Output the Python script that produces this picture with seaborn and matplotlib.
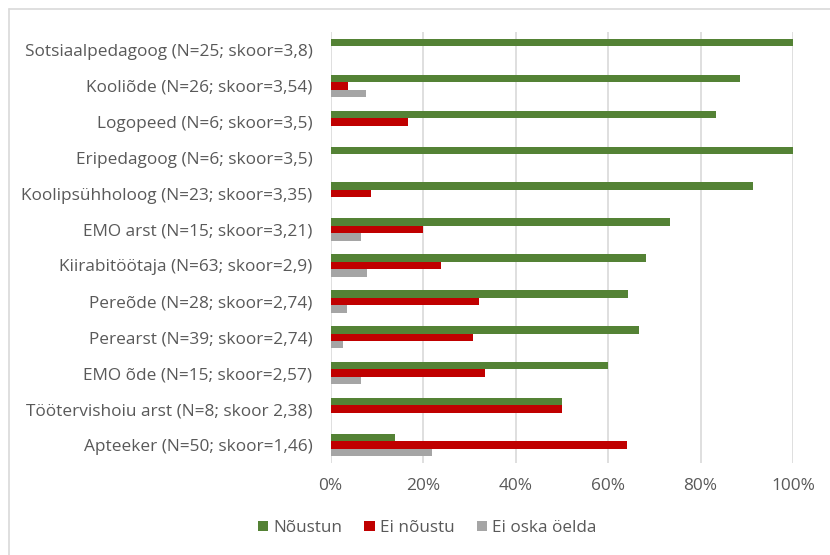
import matplotlib
matplotlib.use("Agg")
import matplotlib.pyplot as plt
from matplotlib.lines import Line2D
from matplotlib.patches import Patch
from matplotlib.ticker import PercentFormatter
import seaborn as sns
import pandas as pd

categories = [
    "Sotsiaalpedagoog (N=25; skoor=3,8)",
    "Kooliõde (N=26; skoor=3,54)",
    "Logopeed (N=6; skoor=3,5)",
    "Eripedagoog (N=6; skoor=3,5)",
    "Koolipsühholoog (N=23; skoor=3,35)",
    "EMO arst (N=15; skoor=3,21)",
    "Kiirabitöötaja (N=63; skoor=2,9)",
    "Pereõde (N=28; skoor=2,74)",
    "Perearst (N=39; skoor=2,74)",
    "EMO õde (N=15; skoor=2,57)",
    "Töötervishoiu arst (N=8; skoor 2,38)",
    "Apteeker (N=50; skoor=1,46)",
]
noustun = [1.0, 0.885, 0.833, 1.0, 0.913, 0.733, 0.683, 0.643, 0.667, 0.60, 0.50, 0.14]
ei_noustu = [0.0, 0.038, 0.167, 0.0, 0.087, 0.20, 0.238, 0.321, 0.308, 0.333, 0.50, 0.64]
ei_oska = [0.0, 0.077, 0.0, 0.0, 0.0, 0.067, 0.079, 0.036, 0.026, 0.067, 0.0, 0.22]
series_names = ["Nõustun", "Ei nõustu", "Ei oska öelda"]
colors = ["#548235", "#C00000", "#A5A5A5"]

rows = []
for name, vals in zip(series_names, [noustun, ei_noustu, ei_oska]):
    for c, v in zip(categories, vals):
        rows.append({"kategooria": c, "vastus": name, "osakaal": v})
df = pd.DataFrame(rows)

sns.set_theme(style="white")
plt.rcParams["font.family"] = ["Open Sans", "DejaVu Sans"]

fig = plt.figure(figsize=(8.3, 5.55), dpi=100)
ax = fig.add_axes([330.5 / 830, 1 - 463 / 555, (793 - 330.5) / 830, (463 - 32) / 555])

sns.barplot(data=df, y="kategooria", x="osakaal", hue="vastus", order=categories,
            hue_order=series_names, palette=colors, orient="h", width=0.62,
            ax=ax, legend=False, saturation=1, linewidth=0, zorder=3)

ax.set_xlim(0, 1.0)
ax.set_ylim(11.5, -0.5)
ax.set_xticks([0, 0.2, 0.4, 0.6, 0.8, 1.0])
ax.xaxis.set_major_formatter(PercentFormatter(1.0, decimals=0))
ax.grid(axis="x", color="#D9D9D9", linewidth=1.2, zorder=0)
ax.grid(axis="y", visible=False)
for s in ax.spines.values():
    s.set_visible(False)
ax.set_xlabel("")
ax.set_ylabel("")
ax.tick_params(axis="both", length=0, colors="#595959", labelsize=12.4)
ax.tick_params(axis="x", pad=11)
ax.tick_params(axis="y", pad=13)

handles = [Patch(facecolor=c, edgecolor="none") for c in colors]
fig.legend(handles, series_names, loc="center", bbox_to_anchor=(427 / 830, 1 - 528 / 555),
           ncol=3, frameon=False, fontsize=12.3, handlelength=0.6, handleheight=0.6,
           handletextpad=0.3, columnspacing=1.3, labelcolor="#595959")

fig.add_artist(Line2D([8.5 / 830, 1.0], [1 - 8.5 / 555, 1 - 8.5 / 555],
                      transform=fig.transFigure, color="#D9D9D9", linewidth=1.2))
fig.add_artist(Line2D([8.5 / 830, 8.5 / 830], [1 - 8.5 / 555, 0.0],
                      transform=fig.transFigure, color="#D9D9D9", linewidth=1.2))

fig.savefig("out.png", dpi=100, facecolor="white")
